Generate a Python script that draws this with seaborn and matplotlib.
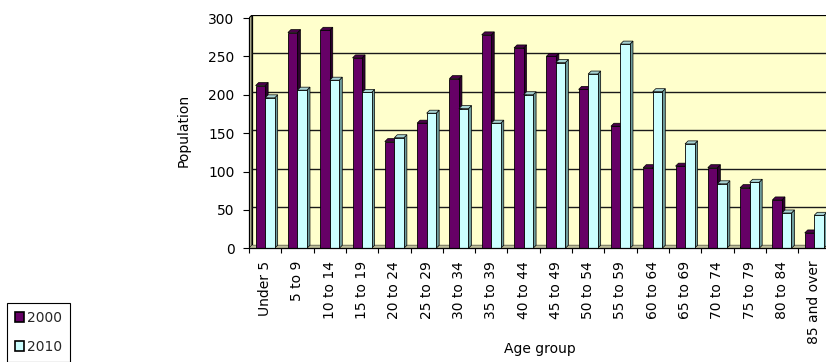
import matplotlib
matplotlib.use("Agg")
import matplotlib.pyplot as plt
import seaborn as sns
import pandas as pd
from matplotlib.patches import Polygon, Patch, Rectangle

# Population by age group, two census years
age_groups = ["Under 5", "5 to 9", "10 to 14", "15 to 19", "20 to 24", "25 to 29",
              "30 to 34", "35 to 39", "40 to 44", "45 to 49", "50 to 54", "55 to 59",
              "60 to 64", "65 to 69", "70 to 74", "75 to 79", "80 to 84", "85 and over"]
pop_2000 = [212, 281, 284, 248, 139, 163, 221, 278, 261, 250, 207, 159,
            105, 107, 105, 79, 63, 20]
pop_2010 = [196, 206, 219, 203, 144, 176, 182, 163, 200, 242, 227, 266,
            204, 136, 84, 86, 46, 43]
years = ["2000", "2010"]
y_ticks = [0, 50, 100, 150, 200, 250, 300]

sns.set_theme(style="white")
plt.rcParams["font.family"] = ["DejaVu Sans"]

df = pd.DataFrame({
    "Age group": age_groups * 2,
    "Population": pop_2000 + pop_2010,
    "Year": [years[0]] * len(age_groups) + [years[1]] * len(age_groups),
})

W, H = 826, 362
fig = plt.figure(figsize=(W / 100, H / 100), dpi=100)

# plot area in pixels (extends slightly past the right edge of the canvas)
px_left, px_bottom, px_top = 249.0, 248.3, 15.0
px_per_cat = 32.3
n = len(age_groups)
px_width = px_per_cat * n
ax = fig.add_axes([px_left / W, 1 - px_bottom / H, px_width / W, (px_bottom - px_top) / H])

px_per_unit = 230.0 / 300.0
depth_px = 3.0
dx = depth_px / px_per_cat
dy = depth_px / px_per_unit
ytop = 300 + dy

front = {"2000": "#660066", "2010": "#CCFFFF"}
side = {"2000": "#2E002E", "2010": "#6E9C9C"}
top = {"2000": "#4A004A", "2010": "#A8D4D4"}

ax.set_facecolor("white")
ax.set_xlim(-0.5, n - 0.5)
ax.set_ylim(0, ytop)

# back wall, left wall and floor
ax.add_patch(Rectangle((-0.5 + dx, dy), n + 1, ytop - dy, facecolor="#FFFFCC",
                       edgecolor="black", linewidth=0.9, zorder=0))
ax.add_patch(Polygon([(-0.5, 0), (-0.5 + dx, dy), (-0.5 + dx, ytop), (-0.5, 300)],
                     closed=True, facecolor="#BDBD9A", edgecolor="black",
                     linewidth=0.8, zorder=0.5))
ax.add_patch(Polygon([(-0.5, 0), (n, 0), (n + dx, dy), (-0.5 + dx, dy)],
                     closed=True, facecolor="#BDBD9A", edgecolor="none", zorder=0.5))

# gridlines on the back wall
ax.hlines([v + dy for v in y_ticks[1:-1]], -0.5 + dx, n, colors="#1A1A1A",
          linewidth=1.0, zorder=1)

sns.barplot(data=df, x="Age group", y="Population", hue="Year", hue_order=years,
            palette=front, saturation=1, width=0.59, errorbar=None,
            edgecolor="black", linewidth=0.6, legend=False, ax=ax)

# 3D side and top faces derived from each bar
for i, (container, yr) in enumerate(zip(ax.containers, years)):
    for bar in container:
        xl = bar.get_x()
        xr = xl + bar.get_width()
        h = bar.get_height()
        z = 3 + 2 * i
        bar.set_zorder(z + 1)
        ax.add_patch(Polygon([(xr, 0), (xr + dx, dy), (xr + dx, h + dy), (xr, h)],
                             closed=True, facecolor=side[yr], edgecolor="black",
                             linewidth=0.5, zorder=z))
        ax.add_patch(Polygon([(xl, h), (xl + dx, h + dy), (xr + dx, h + dy), (xr, h)],
                             closed=True, facecolor=top[yr], edgecolor="black",
                             linewidth=0.5, zorder=z))

# front axis lines
for s in ax.spines.values():
    s.set_visible(False)
ax.plot([-0.5, -0.5], [0, 300], color="black", linewidth=0.9, zorder=10, clip_on=False)
ax.plot([-0.5, n], [0, 0], color="black", linewidth=0.9, zorder=10, clip_on=False)

ax.set_yticks(y_ticks)
ax.set_yticklabels([str(v) for v in y_ticks])
ax.tick_params(axis="y", which="major", left=True, length=4.5, width=0.8,
               color="black", pad=6, labelsize=10, labelcolor="black")
ax.set_xticks(range(n))
ax.set_xticklabels(age_groups, rotation=90, ha="center", va="top")
ax.tick_params(axis="x", which="major", bottom=True, length=0, pad=9,
               labelsize=10, labelcolor="black")
ax.set_xticks([k - 0.5 for k in range(n + 1)], minor=True)
ax.tick_params(axis="x", which="minor", bottom=True, length=3.5, width=0.8,
               color="black", direction="out")

ax.set_xlabel("Age group", fontsize=10, color="black")
ax.xaxis.set_label_coords(0.5, -0.40)
ax.set_ylabel("Population", fontsize=10, color="black")
ax.yaxis.set_label_coords(-0.101, 0.507)

handles = [Patch(facecolor=front[y], edgecolor="black", linewidth=1.2, label=y) for y in years]
leg = fig.legend(handles=handles, loc="upper left", bbox_to_anchor=(7 / W, 1 - 303 / H),
                 frameon=True, fancybox=False, edgecolor="black", framealpha=1,
                 fontsize=10, handlelength=0.7, handleheight=0.7, handletextpad=0.2,
                 labelspacing=1.1, borderpad=0.55, borderaxespad=0)
leg.get_frame().set_linewidth(0.8)

fig.savefig("out.png", dpi=100)
